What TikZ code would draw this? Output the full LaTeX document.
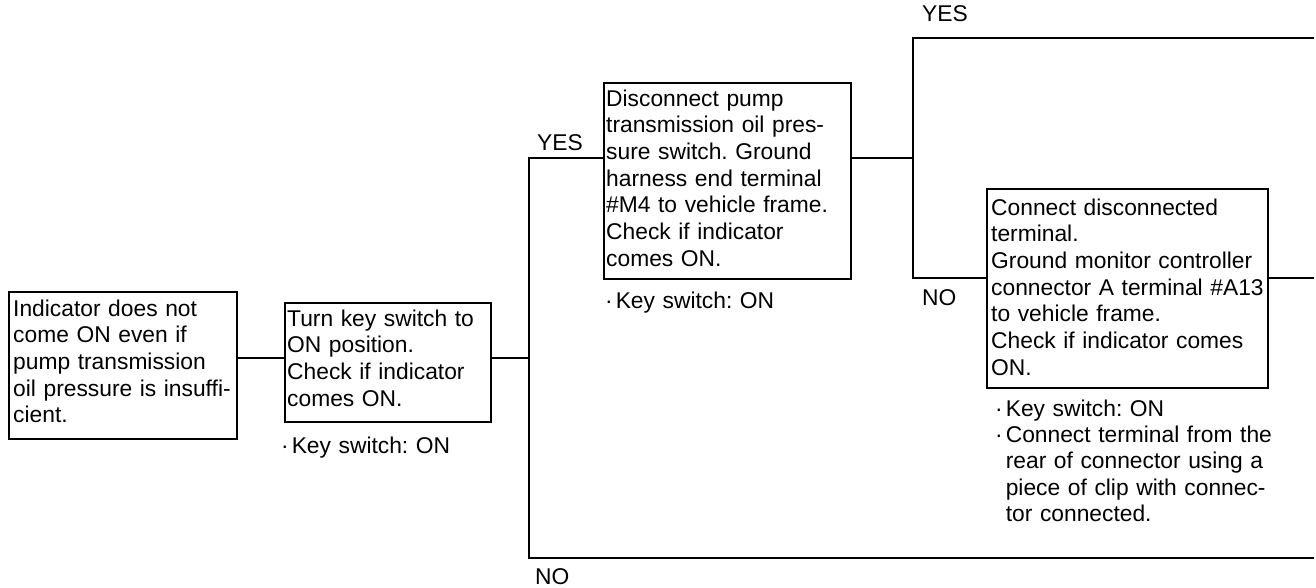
\documentclass[tikz,border=0pt]{standalone}
\usepackage{fontspec}
\setmainfont{Liberation Sans}
\usetikzlibrary{calc}
\frenchspacing

\tikzset{
  box/.style={draw, line width=2.1pt, rectangle, inner sep=0pt, anchor=north west},
  txt/.style={anchor=base west, inner sep=0pt, align=left, text width=300pt,
              font=\fontsize{22.8}{26.7}\selectfont},
  note/.style={anchor=base west, inner sep=0pt, align=left, text width=300pt,
              font=\fontsize{22.8}{26.4}\selectfont},
  lbl/.style={anchor=base west, inner sep=0pt, font=\fontsize{22.8}{26.7}\selectfont},
  wire/.style={line width=2pt}
}
\newcommand{\dotitem}{\textperiodcentered\kern3pt}
\newcommand{\dotgap}{\phantom{\textperiodcentered}\kern3pt}

\begin{document}
\begin{tikzpicture}[x=1pt,y=-1pt]
  \useasboundingbox (0,0) rectangle (1316,587);

  % --- boxes ---
  \node[box, minimum width=228pt, minimum height=147pt] (b1) at (8,291) {};
  \node[box, minimum width=206pt, minimum height=119pt] (b2) at (284,302) {};
  \node[box, minimum width=247pt, minimum height=196pt] (b3) at (603,82) {};
  \node[box, minimum width=281pt, minimum height=199pt] (b4) at (986,188) {};

  % --- box texts ---
  \node[txt] (t1) at ($(b1.north west)+(5,25)$) {Indicator does not\\come ON even if\\pump transmission\\oil pressure is insuffi-\\cient.};
  \node[txt] (t2) at ($(b2.north west)+(3,24)$) {Turn key switch to\\ON position.\\Check if indicator\\comes ON.};
  \node[txt] (t3) at ($(b3.north west)+(3,24)$) {Disconnect pump\\transmission oil pres-\\sure switch. Ground\\harness end terminal\\\#M4 to vehicle frame.\\Check if indicator\\comes ON.};
  \node[txt] (t4) at ($(b4.north west)+(5,27)$) {Connect disconnected\\terminal.\\Ground monitor controller\\connector A terminal \#A13\\to vehicle frame.\\Check if indicator comes\\ON.};

  % --- notes under boxes ---
  \node[note] (n2) at (281,453) {\dotitem Key switch: ON};
  \node[note] (n3) at (605,308) {\dotitem Key switch: ON};
  \node[note] (n4) at (995,416) {\dotitem Key switch: ON\\\dotitem Connect terminal from the\\\dotgap rear of connector using a\\\dotgap piece of clip with connec-\\\dotgap tor connected.};

  % --- branch points and open ends ---
  \coordinate (j1)    at (529,358);
  \coordinate (j1top) at (529,158);
  \coordinate (j1bot) at (529,558);
  \coordinate (e1)    at (1314,558);
  \coordinate (j2)    at (913,158);
  \coordinate (j2top) at (913,38);
  \coordinate (j2bot) at (913,278);
  \coordinate (e2)    at (1314,38);
  \coordinate (e3)    at (1314,278);

  % --- connectors ---
  \draw[wire] (b1.east |- j1) -- (b2.west |- j1);
  \draw[wire] (b2.east |- j1) -- (j1);
  \draw[wire] (b3.west |- j1top) -- (j1top) -- (j1bot) -- (e1);
  \draw[wire] (b3.east |- j2) -- (j2);
  \draw[wire] (e2) -- (j2top) -- (j2bot) -- (b4.west |- j2bot);
  \draw[wire] (b4.east |- j2bot) -- (e3);

  % --- branch labels ---
  \node[lbl] (yes1) at (537,150) {YES};
  \node[lbl] (no1)  at (535,584) {NO};
  \node[lbl] (yes2) at (922,21)  {YES};
  \node[lbl] (no2)  at (922,305) {NO};
\end{tikzpicture}
\end{document}
